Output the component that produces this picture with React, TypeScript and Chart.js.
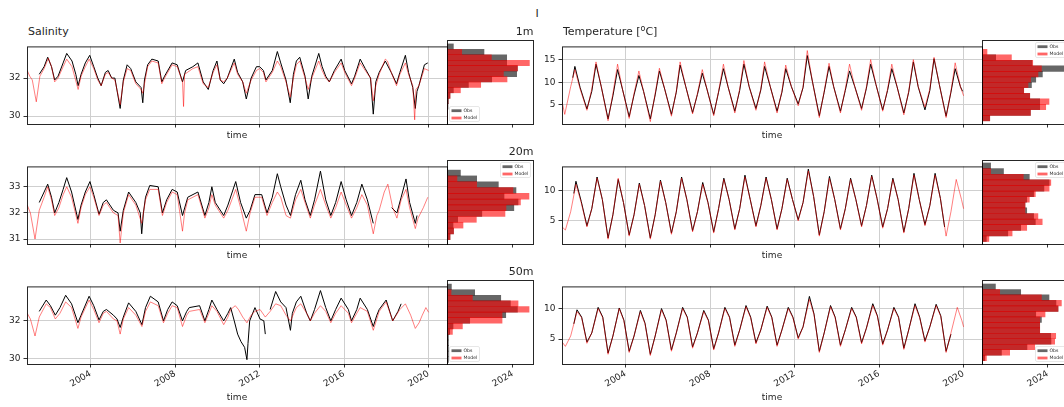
import React, { useEffect, useRef } from "react";
import { Chart, registerables } from "chart.js";
Chart.register(...registerables);

const FONT = "'DejaVu Sans', 'Liberation Sans', sans-serif";
type Pt = [number, number | null];

// ---------- axes ----------
const X_MIN = 2000.99;
const X_MAX = 2020.87;
const yearTicks = [2004, 2008, 2012, 2016, 2020];
const histTickValue = 76.6;
const histTickLabel = "2024";
const HIST_MAX = 100;

// ---------- Salinity 1m ----------
const sal1mModel: Pt[] = [
  [2001.0, 32.4], [2001.12, 32.1], [2001.24, 31.9], [2001.43, 30.75], [2001.6, 32.1], [2001.8, 32.5],
  [2002.0, 33.05], [2002.15, 32.6], [2002.3, 31.8], [2002.46, 32.0], [2002.7, 32.6], [2002.87, 33.0],
  [2003.12, 32.6], [2003.41, 31.4], [2003.55, 32.1], [2003.75, 32.6], [2003.93, 33.0],
  [2004.15, 32.5], [2004.34, 31.9], [2004.5, 31.6], [2004.7, 32.2], [2004.83, 32.3],
  [2005.0, 32.0], [2005.15, 31.9], [2005.4, 30.6], [2005.55, 31.8], [2005.73, 32.5], [2005.9, 32.4],
  [2006.14, 31.7], [2006.39, 31.4], [2006.47, 31.2], [2006.7, 32.6], [2006.9, 32.9],
  [2007.2, 32.8], [2007.37, 31.7], [2007.5, 32.0], [2007.86, 32.7],
  [2008.1, 32.6], [2008.35, 31.8], [2008.4, 30.5], [2008.45, 32.2], [2008.84, 32.5],
  [2009.08, 32.6], [2009.33, 31.7], [2009.57, 31.5], [2009.8, 32.3], [2009.98, 32.7],
  [2010.14, 31.9], [2010.3, 31.8], [2010.47, 32.0], [2010.8, 32.8], [2010.96, 32.2],
  [2011.2, 31.8], [2011.37, 31.2], [2011.6, 31.9], [2011.85, 32.4],
  [2012.0, 32.5], [2012.18, 32.3], [2012.3, 31.8], [2012.6, 32.3], [2012.84, 32.9],
  [2013.0, 32.6], [2013.25, 31.8], [2013.45, 31.0], [2013.6, 32.0], [2013.74, 32.7], [2013.9, 32.9],
  [2014.15, 32.0], [2014.3, 31.4], [2014.47, 32.0], [2014.8, 32.9], [2014.96, 32.4],
  [2015.13, 32.0], [2015.3, 31.8], [2015.54, 32.3], [2015.86, 32.8],
  [2016.03, 32.3], [2016.35, 31.6], [2016.5, 32.0], [2016.76, 32.8],
  [2017.0, 32.4], [2017.25, 32.0], [2017.38, 30.8], [2017.5, 31.6], [2017.66, 32.2], [2017.95, 33.0],
  [2018.05, 32.9], [2018.23, 32.3], [2018.48, 31.6], [2018.64, 32.2], [2018.9, 32.8],
  [2019.05, 32.2], [2019.25, 31.6], [2019.34, 29.8], [2019.4, 31.4], [2019.54, 31.6], [2019.8, 32.5], [2020.0, 32.4],
];
const sal1mObs: Pt[] = [
  [2001.57, 32.2], [2001.8, 32.6], [2001.97, 33.1],
  [2002.15, 32.6], [2002.3, 31.9], [2002.46, 32.1], [2002.7, 32.8], [2002.87, 33.3],
  [2003.12, 32.9], [2003.3, 32.2], [2003.41, 31.6], [2003.55, 32.2], [2003.75, 32.8], [2003.96, 33.2],
  [2004.15, 32.6], [2004.34, 32.0], [2004.5, 31.6], [2004.7, 32.3], [2004.83, 32.4],
  [2005.0, 32.0], [2005.15, 32.0], [2005.4, 30.4], [2005.55, 31.9], [2005.73, 32.7], [2005.9, 32.5],
  [2006.14, 31.8], [2006.39, 31.5], [2006.47, 30.7], [2006.55, 31.9], [2006.7, 32.7], [2006.9, 33.0],
  [2007.2, 32.9], [2007.37, 31.8], [2007.5, 32.1], [2007.86, 32.8],
  [2008.1, 32.7], [2008.35, 31.8], [2008.5, 32.4], [2008.84, 32.6],
  [2009.08, 32.8], [2009.33, 31.8], [2009.57, 31.4], [2009.8, 32.4], [2009.98, 32.9],
  [2010.14, 31.9], [2010.3, 31.7], [2010.47, 32.0], [2010.8, 33.0], [2010.96, 32.3],
  [2011.2, 31.8], [2011.37, 30.9], [2011.6, 32.0], [2011.85, 32.6],
  [2012.0, 32.6], [2012.18, 32.4], [2012.3, 31.9], [2012.6, 32.4], [2012.84, 33.4],
  [2013.0, 32.8], [2013.25, 31.9], [2013.45, 30.7], [2013.6, 32.2], [2013.74, 32.9], [2013.9, 33.1],
  [2014.15, 32.1], [2014.3, 30.9], [2014.47, 32.1], [2014.8, 33.3], [2014.96, 32.6],
  [2015.13, 32.1], [2015.3, 31.8], [2015.54, 32.4], [2015.86, 33.0],
  [2016.03, 32.4], [2016.35, 31.7], [2016.5, 32.1], [2016.76, 33.0],
  [2017.0, 32.5], [2017.25, 32.0], [2017.38, 30.1], [2017.5, 31.8], [2017.66, 32.3], [2017.95, 32.9],
  [2018.23, 32.3], [2018.48, 31.7], [2018.64, 32.3], [2018.9, 33.2],
  [2019.05, 32.3], [2019.25, 31.5], [2019.37, 30.4], [2019.45, 31.3], [2019.54, 31.6], [2019.8, 32.7], [2019.96, 32.8],
];

// ---------- Salinity 20m ----------
const sal20mModel: Pt[] = [
  [2001.0, 32.3], [2001.15, 32.0], [2001.37, 31.0], [2001.57, 32.1], [2001.8, 32.6], [2001.97, 33.0],
  [2002.15, 32.5], [2002.3, 31.9], [2002.5, 32.2], [2002.7, 32.7], [2002.87, 33.0],
  [2003.1, 32.6], [2003.4, 31.6], [2003.55, 32.2], [2003.75, 32.7], [2003.97, 33.0],
  [2004.15, 32.6], [2004.4, 31.9], [2004.6, 32.3], [2004.75, 32.4],
  [2005.08, 32.0], [2005.3, 31.9], [2005.4, 30.85], [2005.55, 32.0], [2005.8, 32.7],
  [2006.14, 32.3], [2006.42, 31.6], [2006.6, 32.5], [2006.8, 32.9],
  [2007.2, 32.9], [2007.4, 31.9], [2007.6, 32.4], [2007.86, 32.8],
  [2008.1, 32.7], [2008.35, 31.3], [2008.45, 32.0], [2008.6, 32.5],
  [2009.08, 32.7], [2009.41, 31.8], [2009.6, 32.2], [2009.74, 32.7], [2009.9, 32.3],
  [2010.3, 31.8], [2010.5, 32.1], [2010.87, 32.9],
  [2011.1, 32.2], [2011.37, 31.3], [2011.55, 32.0], [2011.78, 32.6],
  [2012.1, 32.6], [2012.35, 31.9], [2012.6, 32.4], [2012.84, 32.8],
  [2013.0, 32.6], [2013.25, 31.9], [2013.46, 31.8], [2013.7, 32.5], [2013.95, 32.9],
  [2014.15, 32.4], [2014.4, 31.8], [2014.6, 32.3], [2014.88, 32.9],
  [2015.13, 32.3], [2015.37, 31.8], [2015.6, 32.2], [2015.86, 32.8],
  [2016.1, 32.3], [2016.35, 31.8], [2016.6, 32.2], [2016.84, 32.7],
  [2017.1, 32.3], [2017.38, 31.2], [2017.55, 31.9], [2017.66, 32.1], [2017.9, 32.8],
  [2018.07, 33.1], [2018.3, 32.2], [2018.5, 31.8], [2018.7, 32.5], [2018.93, 32.9],
  [2019.1, 32.2], [2019.37, 31.4], [2019.5, 31.8], [2019.75, 32.2], [2019.96, 32.6],
];
const sal20mObs: Pt[] = [
  [2001.57, 32.4], [2001.8, 32.8], [2001.97, 33.1],
  [2002.15, 32.6], [2002.3, 32.0], [2002.5, 32.4], [2002.7, 32.9], [2002.87, 33.35],
  [2003.1, 32.8], [2003.4, 31.75], [2003.55, 32.3], [2003.75, 32.8], [2003.97, 33.2],
  [2004.15, 32.7], [2004.4, 31.95], [2004.6, 32.4], [2004.75, 32.5],
  [2005.08, 32.1], [2005.3, 32.0], [2005.4, 31.3], [2005.55, 32.1], [2005.8, 32.8],
  [2006.14, 32.4], [2006.35, 32.0], [2006.42, 31.2], [2006.5, 32.0], [2006.6, 32.6], [2006.8, 33.05],
  [2007.2, 33.0], [2007.4, 32.0], [2007.6, 32.5], [2007.86, 32.9],
  [2008.1, 32.8], [2008.35, 31.9], [2008.6, 32.6],
  [2009.08, 32.8], [2009.41, 31.9], [2009.6, 32.4], [2009.74, 33.0], [2009.9, 32.4],
  [2010.3, 31.9], [2010.5, 32.3], [2010.87, 33.2],
  [2011.1, 32.4], [2011.37, 31.8], [2011.55, 32.1], [2011.78, 32.7],
  [2012.1, 32.7], [2012.35, 32.0], [2012.6, 32.6], [2012.84, 33.5],
  [2013.0, 33.0], [2013.25, 32.3], [2013.46, 31.9], [2013.7, 32.7], [2013.95, 33.25],
  [2014.15, 32.5], [2014.4, 31.9], [2014.6, 32.5], [2014.88, 33.6],
  [2015.13, 32.5], [2015.37, 31.9], [2015.6, 32.4], [2015.86, 33.2],
  [2016.1, 32.5], [2016.35, 31.9], [2016.6, 32.4], [2016.84, 33.1],
  [2017.1, 32.5], [2017.38, 31.6], [2017.5, null],
  [2018.25, 32.2], [2018.5, 32.0], [2018.7, 32.6], [2018.93, 33.3],
  [2019.1, 32.4], [2019.37, 31.6], [2019.45, 31.9],
];

// ---------- Salinity 50m ----------
const sal50mModel: Pt[] = [
  [2001.0, 32.4], [2001.15, 32.1], [2001.37, 31.2], [2001.57, 32.2], [2001.9, 32.9],
  [2002.1, 32.7], [2002.33, 32.1], [2002.55, 32.4], [2002.82, 33.0],
  [2003.1, 32.7], [2003.4, 31.6], [2003.55, 32.2], [2003.93, 33.1],
  [2004.15, 32.6], [2004.4, 31.9], [2004.6, 32.4], [2004.75, 32.5],
  [2005.08, 32.1], [2005.25, 32.0], [2005.4, 31.3], [2005.55, 32.1], [2005.8, 32.7],
  [2006.14, 32.3], [2006.43, 31.7], [2006.6, 32.5], [2006.83, 33.0],
  [2007.2, 32.8], [2007.45, 31.9], [2007.65, 32.4], [2007.86, 32.8],
  [2008.1, 32.7], [2008.35, 31.7], [2008.55, 32.3], [2008.67, 32.5],
  [2009.16, 32.6], [2009.41, 31.9], [2009.6, 32.4], [2009.74, 32.8], [2009.98, 32.5],
  [2010.3, 31.8], [2010.5, 32.2], [2010.63, 32.6], [2010.85, 32.8],
  [2011.0, 32.6], [2011.2, 32.2], [2011.4, 31.9], [2011.6, 32.3], [2011.78, 32.5],
  [2012.02, 32.6], [2012.27, 32.2], [2012.5, 32.5], [2012.76, 32.9],
  [2013.0, 32.8], [2013.25, 32.3], [2013.46, 32.0], [2013.74, 32.7], [2013.95, 32.9],
  [2014.23, 32.4], [2014.4, 32.0], [2014.6, 32.4], [2014.88, 32.8],
  [2015.13, 32.5], [2015.37, 31.9], [2015.6, 32.4], [2015.86, 32.8],
  [2016.2, 32.4], [2016.35, 31.9], [2016.6, 32.4], [2016.76, 32.7],
  [2017.1, 32.5], [2017.38, 31.5], [2017.55, 32.1], [2017.66, 32.5], [2017.99, 33.0],
  [2018.3, 32.0], [2018.64, 32.6], [2018.9, 32.9],
  [2019.15, 32.3], [2019.37, 31.6], [2019.55, 31.9], [2019.7, 32.3], [2019.87, 32.7], [2020.0, 32.45],
];
const sal50mObs: Pt[] = [
  [2001.57, 32.5], [2001.9, 33.1],
  [2002.1, 32.8], [2002.33, 32.3], [2002.55, 32.7], [2002.82, 33.35],
  [2003.1, 32.9], [2003.4, 31.9], [2003.55, 32.3], [2003.93, 33.3],
  [2004.15, 32.8], [2004.4, 32.05], [2004.6, 32.5], [2004.75, 32.6],
  [2005.08, 32.3], [2005.25, 32.1], [2005.4, 31.65], [2005.55, 32.2], [2005.8, 32.95],
  [2006.14, 32.5], [2006.43, 31.8], [2006.6, 32.7], [2006.83, 33.3],
  [2007.2, 33.0], [2007.45, 32.0], [2007.65, 32.6], [2007.86, 33.0],
  [2008.1, 32.8], [2008.35, 32.0], [2008.55, 32.5], [2008.67, 32.7],
  [2009.16, 32.8], [2009.41, 32.0], [2009.6, 32.6], [2009.74, 33.1], [2009.98, 32.6],
  [2010.3, 32.0], [2010.5, 32.4], [2010.63, 32.7], [2010.8, 32.0], [2010.96, 31.3],
  [2011.12, 30.9], [2011.29, 30.6], [2011.4, 29.95], [2011.45, 30.8], [2011.53, 32.0], [2011.78, 32.7],
  [2012.02, 32.1], [2012.2, 32.0], [2012.27, 31.3], [2012.3, null],
  [2012.5, 32.6], [2012.76, 33.55],
  [2013.0, 33.0], [2013.25, 32.7], [2013.46, 31.5], [2013.55, 32.4], [2013.74, 33.0], [2013.95, 33.3],
  [2014.23, 32.4], [2014.4, 32.0], [2014.6, 32.6], [2014.88, 33.6],
  [2015.13, 32.7], [2015.37, 32.0], [2015.6, 32.6], [2015.86, 33.2],
  [2016.2, 32.6], [2016.35, 32.0], [2016.6, 32.6], [2016.76, 33.2],
  [2017.1, 32.6], [2017.38, 31.7], [2017.55, 32.3], [2017.66, 32.6], [2017.99, 33.1],
  [2018.3, 32.0], [2018.55, 32.5], [2018.7, 32.9],
];

// ---------- Temperature 1m ----------
const temp1mModel: Pt[] = [
  [2001.0, 5.6], [2001.12, 2.9], [2001.4, 9.0], [2001.6, 12.8], [2001.85, 8.5],
  [2002.17, 3.8], [2002.4, 8.5], [2002.6, 14.5], [2002.85, 9.0],
  [2003.17, 1.5], [2003.4, 7.5], [2003.62, 14.0], [2003.85, 8.5],
  [2004.17, 2.0], [2004.4, 7.5], [2004.63, 12.5], [2004.85, 8.0],
  [2005.17, 1.3], [2005.4, 7.5], [2005.6, 13.1], [2005.85, 8.5],
  [2006.17, 2.5], [2006.4, 8.0], [2006.58, 14.5], [2006.85, 9.0],
  [2007.17, 3.0], [2007.4, 7.5], [2007.63, 12.8], [2007.85, 8.5],
  [2008.17, 2.6], [2008.4, 8.0], [2008.63, 14.0], [2008.85, 9.0],
  [2009.17, 3.2], [2009.4, 8.5], [2009.6, 14.8], [2009.85, 9.0],
  [2010.17, 3.8], [2010.4, 8.5], [2010.58, 14.5], [2010.85, 9.0],
  [2011.17, 3.2], [2011.4, 8.0], [2011.58, 13.8], [2011.85, 9.0],
  [2012.17, 4.8], [2012.4, 9.0], [2012.6, 17.0], [2012.85, 10.0],
  [2013.17, 2.2], [2013.4, 8.0], [2013.63, 14.2], [2013.85, 9.0],
  [2014.17, 3.2], [2014.4, 8.5], [2014.6, 14.0], [2014.85, 9.0],
  [2015.17, 3.8], [2015.4, 9.0], [2015.6, 15.0], [2015.85, 9.5],
  [2016.17, 3.6], [2016.4, 8.5], [2016.6, 14.0], [2016.85, 9.0],
  [2017.17, 2.8], [2017.4, 8.0], [2017.62, 15.0], [2017.85, 9.0],
  [2018.17, 4.5], [2018.4, 8.5], [2018.6, 15.5], [2018.85, 9.5],
  [2019.17, 2.2], [2019.4, 8.0], [2019.6, 14.3], [2019.85, 9.0], [2020.0, 7.0],
];
const temp1mObs: Pt[] = [
  [2001.5, 11.0], [2001.6, 13.5], [2001.85, 8.8],
  [2002.17, 4.1], [2002.4, 8.0], [2002.6, 14.0], [2002.85, 9.0],
  [2003.17, 1.9], [2003.4, 7.0], [2003.62, 12.8], [2003.85, 8.5],
  [2004.17, 2.4], [2004.4, 7.2], [2004.63, 11.5], [2004.85, 8.0],
  [2005.17, 1.9], [2005.4, 7.2], [2005.6, 12.5], [2005.85, 8.5],
  [2006.17, 2.9], [2006.4, 7.8], [2006.58, 13.8], [2006.85, 9.0],
  [2007.17, 3.3], [2007.4, 7.3], [2007.63, 12.0], [2007.85, 8.5],
  [2008.17, 2.9], [2008.4, 7.8], [2008.63, 13.0], [2008.85, 9.0],
  [2009.17, 3.6], [2009.4, 8.2], [2009.6, 14.0], [2009.85, 9.0],
  [2010.17, 4.2], [2010.4, 8.3], [2010.58, 13.5], [2010.85, 9.0],
  [2011.17, 3.6], [2011.4, 7.8], [2011.58, 13.0], [2011.85, 9.0],
  [2012.17, 5.2], [2012.4, 8.8], [2012.6, 15.9], [2012.85, 10.0],
  [2013.17, 2.6], [2013.4, 7.8], [2013.63, 13.5], [2013.85, 9.0],
  [2014.17, 3.6], [2014.4, 8.2], [2014.6, 12.5], [2014.85, 9.0],
  [2015.17, 4.2], [2015.4, 8.7], [2015.6, 14.0], [2015.85, 9.5],
  [2016.17, 3.9], [2016.4, 8.2], [2016.6, 13.0], [2016.85, 9.0],
  [2017.17, 3.2], [2017.4, 7.8], [2017.62, 14.5], [2017.85, 9.0],
  [2018.17, 3.9], [2018.4, 8.2], [2018.6, 15.2], [2018.85, 9.5],
  [2019.17, 2.5], [2019.4, 7.8], [2019.6, 13.0], [2019.85, 9.0], [2019.95, 8.0],
];

// ---------- Temperature 20m ----------
const temp20mModel: Pt[] = [
  [2001.0, 4.0], [2001.15, 3.5], [2001.4, 6.5], [2001.65, 11.0], [2001.9, 8.0],
  [2002.17, 4.0], [2002.4, 7.0], [2002.65, 12.0], [2002.9, 8.5],
  [2003.17, 2.0], [2003.4, 6.0], [2003.65, 12.0], [2003.9, 8.0],
  [2004.17, 2.5], [2004.4, 6.0], [2004.65, 11.0], [2004.9, 7.5],
  [2005.17, 2.0], [2005.4, 6.0], [2005.65, 11.5], [2005.9, 8.0],
  [2006.17, 2.8], [2006.4, 6.5], [2006.65, 12.0], [2006.9, 8.5],
  [2007.17, 3.2], [2007.4, 6.5], [2007.65, 11.0], [2007.9, 8.0],
  [2008.17, 3.0], [2008.4, 7.0], [2008.65, 11.8], [2008.9, 8.5],
  [2009.17, 3.5], [2009.4, 7.0], [2009.65, 12.2], [2009.9, 8.5],
  [2010.17, 4.0], [2010.4, 7.5], [2010.65, 12.0], [2010.9, 8.5],
  [2011.17, 3.5], [2011.4, 7.0], [2011.65, 11.8], [2011.9, 8.5],
  [2012.17, 5.0], [2012.4, 8.0], [2012.65, 13.2], [2012.9, 9.0],
  [2013.17, 2.5], [2013.4, 6.5], [2013.65, 12.0], [2013.9, 8.5],
  [2014.17, 3.5], [2014.4, 7.0], [2014.65, 11.8], [2014.9, 8.5],
  [2015.17, 4.0], [2015.4, 7.5], [2015.65, 12.3], [2015.9, 8.7],
  [2016.17, 3.8], [2016.4, 7.0], [2016.65, 11.8], [2016.9, 8.5],
  [2017.17, 3.0], [2017.4, 7.0], [2017.65, 12.5], [2017.9, 8.5],
  [2018.17, 4.2], [2018.4, 7.5], [2018.65, 12.5], [2018.9, 8.7],
  [2019.17, 2.5], [2019.4, 6.5], [2019.65, 11.8], [2019.9, 8.5], [2020.0, 7.0],
];
const temp20mObs: Pt[] = [
  [2001.55, 9.5], [2001.65, 11.5], [2001.9, 8.2],
  [2002.17, 4.2], [2002.4, 7.0], [2002.65, 12.2], [2002.9, 8.5],
  [2003.17, 2.2], [2003.4, 6.0], [2003.65, 11.8], [2003.9, 8.0],
  [2004.17, 2.7], [2004.4, 6.0], [2004.65, 11.2], [2004.9, 7.5],
  [2005.17, 2.2], [2005.4, 6.0], [2005.65, 11.7], [2005.9, 8.0],
  [2006.17, 3.0], [2006.4, 6.5], [2006.65, 12.2], [2006.9, 8.5],
  [2007.17, 3.4], [2007.4, 6.5], [2007.65, 11.3], [2007.9, 8.0],
  [2008.17, 3.2], [2008.4, 7.0], [2008.65, 12.0], [2008.9, 8.5],
  [2009.17, 3.7], [2009.4, 7.0], [2009.65, 12.5], [2009.9, 8.5],
  [2010.17, 4.2], [2010.4, 7.5], [2010.65, 12.2], [2010.9, 8.5],
  [2011.17, 3.7], [2011.4, 7.0], [2011.65, 12.0], [2011.9, 8.5],
  [2012.17, 5.2], [2012.4, 8.0], [2012.65, 13.5], [2012.9, 9.0],
  [2013.17, 2.7], [2013.4, 6.5], [2013.65, 12.3], [2013.9, 8.5],
  [2014.17, 3.7], [2014.4, 7.0], [2014.65, 12.0], [2014.9, 8.5],
  [2015.17, 4.2], [2015.4, 7.5], [2015.65, 12.5], [2015.9, 8.7],
  [2016.17, 4.0], [2016.4, 7.0], [2016.65, 12.0], [2016.9, 8.5],
  [2017.17, 3.2], [2017.4, 7.0], [2017.65, 12.8], [2017.9, 8.5],
  [2018.17, 4.4], [2018.4, 7.5], [2018.65, 12.8], [2018.9, 8.7], [2019.1, 4.0],
];

// ---------- Temperature 50m ----------
const temp50mModel: Pt[] = [
  [2001.0, 4.5], [2001.15, 3.8], [2001.4, 5.5], [2001.7, 9.5], [2001.92, 8.5],
  [2002.17, 4.3], [2002.4, 6.0], [2002.7, 10.0], [2002.92, 8.5],
  [2003.17, 2.5], [2003.4, 5.5], [2003.7, 10.0], [2003.92, 8.0],
  [2004.17, 2.8], [2004.4, 5.5], [2004.7, 9.5], [2004.92, 7.5],
  [2005.17, 2.3], [2005.4, 5.5], [2005.7, 9.8], [2005.92, 8.0],
  [2006.17, 3.0], [2006.4, 6.0], [2006.7, 10.0], [2006.92, 8.5],
  [2007.17, 3.5], [2007.4, 6.0], [2007.7, 9.5], [2007.92, 8.0],
  [2008.17, 3.2], [2008.4, 6.0], [2008.7, 10.0], [2008.92, 8.5],
  [2009.17, 3.8], [2009.4, 6.5], [2009.7, 10.3], [2009.92, 8.5],
  [2010.17, 4.2], [2010.4, 6.5], [2010.7, 10.2], [2010.92, 8.5],
  [2011.17, 3.8], [2011.4, 6.5], [2011.7, 10.0], [2011.92, 8.5],
  [2012.17, 5.0], [2012.4, 7.0], [2012.7, 11.5], [2012.92, 9.0],
  [2013.17, 2.8], [2013.4, 6.0], [2013.7, 10.3], [2013.92, 8.5],
  [2014.17, 3.8], [2014.4, 6.5], [2014.7, 10.0], [2014.92, 8.5],
  [2015.17, 4.2], [2015.4, 6.8], [2015.7, 10.5], [2015.92, 8.7],
  [2016.17, 4.0], [2016.4, 6.5], [2016.7, 10.0], [2016.92, 8.5],
  [2017.17, 3.3], [2017.4, 6.5], [2017.7, 10.5], [2017.92, 8.5],
  [2018.17, 4.5], [2018.4, 7.0], [2018.7, 10.5], [2018.92, 8.7],
  [2019.17, 2.8], [2019.4, 6.0], [2019.7, 10.2], [2019.92, 8.0], [2020.0, 7.0],
];
const temp50mObs: Pt[] = [
  [2001.55, 7.5], [2001.7, 9.8], [2001.92, 8.6],
  [2002.17, 4.5], [2002.4, 6.0], [2002.7, 10.2], [2002.92, 8.6],
  [2003.17, 2.7], [2003.4, 5.5], [2003.7, 10.1], [2003.92, 8.1],
  [2004.17, 3.0], [2004.4, 5.5], [2004.7, 9.7], [2004.92, 7.6],
  [2005.17, 2.5], [2005.4, 5.5], [2005.7, 10.0], [2005.92, 8.1],
  [2006.17, 3.2], [2006.4, 6.0], [2006.7, 10.2], [2006.92, 8.6],
  [2007.17, 3.7], [2007.4, 6.0], [2007.7, 9.7], [2007.92, 8.1],
  [2008.17, 3.4], [2008.4, 6.0], [2008.7, 10.2], [2008.92, 8.6],
  [2009.17, 4.0], [2009.4, 6.5], [2009.7, 10.5], [2009.92, 8.6],
  [2010.17, 4.4], [2010.4, 6.5], [2010.7, 10.4], [2010.92, 8.6],
  [2011.17, 4.0], [2011.4, 6.5], [2011.7, 10.2], [2011.92, 8.6],
  [2012.17, 5.2], [2012.4, 7.0], [2012.7, 12.0], [2012.92, 9.1],
  [2013.17, 3.0], [2013.4, 6.0], [2013.7, 10.5], [2013.92, 8.6],
  [2014.17, 4.0], [2014.4, 6.5], [2014.7, 10.2], [2014.92, 8.6],
  [2015.17, 4.4], [2015.4, 6.8], [2015.7, 10.8], [2015.92, 8.8],
  [2016.17, 4.2], [2016.4, 6.5], [2016.7, 10.2], [2016.92, 8.6],
  [2017.17, 3.5], [2017.4, 6.5], [2017.7, 10.8], [2017.92, 8.6],
  [2018.17, 4.7], [2018.4, 7.0], [2018.7, 10.7], [2018.92, 8.8], [2019.17, 3.0], [2019.4, 5.8],
];

// ---------- Histograms (bin centres, counts) ----------
const sal1mBins = [29.9, 30.17, 30.43, 30.7, 30.96, 31.23, 31.49, 31.76, 32.02, 32.29, 32.55, 32.82, 33.08, 33.35];
const sal1mHistObs = [0.6, 0.6, 1.2, 1.7, 3.5, 7.4, 24.9, 52, 81, 81.9, 69.4, 69.4, 43, 7.4];
const sal1mHistModel = [0.6, 0.3, 0.6, 1.2, 3.5, 15.6, 39.2, 69.8, 65.6, 81.9, 95.8, 51.6, 17.1, 0];

const sal20mBins = [31.065, 31.27, 31.475, 31.68, 31.885, 32.09, 32.295, 32.5, 32.705, 32.91, 33.115, 33.32];
const sal20mHistObs = [3.5, 7.6, 7, 12.4, 40.5, 77.7, 82.6, 66.3, 80.2, 59.7, 34.5, 15.6];
const sal20mHistModel = [3.5, 7.6, 18.6, 34.1, 67.4, 68.6, 85.4, 95.3, 76.7, 34.5, 11.6, 0];

const sal50mBins = [29.93, 30.21, 30.48, 30.75, 31.03, 31.3, 31.57, 31.845, 32.12, 32.39, 32.665, 32.94, 33.21, 33.485];
const sal50mHistObs = [1.7, 1.7, 1.7, 1.7, 1.7, 3.1, 7, 26.4, 68.3, 81.9, 73.7, 62.5, 32.2, 5.1];
const sal50mHistModel = [0, 0, 0, 0, 0, 6.3, 17.9, 64, 64, 95.4, 82.6, 29.5, 4.7, 0];

const temp1mBins = [1.99, 3.11, 4.24, 5.36, 6.48, 7.6, 8.73, 9.85, 10.97, 12.09, 13.22, 14.34, 15.46];
const temp1mHistObs = [9, 56.3, 67.1, 67.1, 55.5, 48.5, 57.5, 62.5, 70.2, 100, 58.1, 15.9, 0];
const temp1mHistModel = [9, 56.3, 74.1, 77.9, 55.5, 48.5, 53.5, 56.6, 65.1, 69.1, 59, 34.2, 5.8];

const temp20mBins = [2.01, 2.86, 3.71, 4.56, 5.41, 6.26, 7.11, 7.96, 8.81, 9.66, 10.51, 11.36, 12.21, 13.06];
const temp20mHistObs = [5, 30, 45, 62, 60, 52, 50, 52, 60, 72, 78, 55, 25, 10];
const temp20mHistModel = [8, 35, 52, 70, 65, 50, 50, 55, 62, 78, 80, 48, 10, 0];

const temp50mBins = [1.83, 2.66, 3.49, 4.32, 5.15, 5.98, 6.81, 7.64, 8.47, 9.3, 10.13, 10.96, 11.79, 12.62];
const temp50mHistObs = [3.1, 22.6, 52.3, 80.2, 79.9, 67.1, 67.1, 69.1, 62.5, 88.4, 86, 77.9, 45, 15.6];
const temp50mHistModel = [5.1, 32.2, 61.3, 84.5, 85.7, 67.1, 67.1, 67.1, 73.3, 88.4, 92.3, 69.1, 20.6, 0];

// ---------- panel definitions ----------
type PanelDef = {
  row: number; col: number;
  yMin: number; yMax: number; yTicks: number[];
  obs: Pt[]; model: Pt[];
  bins: number[]; histObs: number[]; histModel: number[];
  legendPos: string;
};
const panels: PanelDef[] = [
  { row: 0, col: 0, yMin: 29.58, yMax: 33.67, yTicks: [30, 32], obs: sal1mObs, model: sal1mModel, bins: sal1mBins, histObs: sal1mHistObs, histModel: sal1mHistModel, legendPos: "ll" },
  { row: 1, col: 0, yMin: 30.81, yMax: 33.78, yTicks: [31, 32, 33], obs: sal20mObs, model: sal20mModel, bins: sal20mBins, histObs: sal20mHistObs, histModel: sal20mHistModel, legendPos: "ur" },
  { row: 2, col: 0, yMin: 29.72, yMax: 33.82, yTicks: [30, 32], obs: sal50mObs, model: sal50mModel, bins: sal50mBins, histObs: sal50mHistObs, histModel: sal50mHistModel, legendPos: "ll" },
  { row: 0, col: 1, yMin: 0.78, yMax: 17.92, yTicks: [5, 10, 15], obs: temp1mObs, model: temp1mModel, bins: temp1mBins, histObs: temp1mHistObs, histModel: temp1mHistModel, legendPos: "ur" },
  { row: 1, col: 1, yMin: 1.21, yMax: 13.94, yTicks: [5, 10], obs: temp20mObs, model: temp20mModel, bins: temp20mBins, histObs: temp20mHistObs, histModel: temp20mHistModel, legendPos: "ur" },
  { row: 2, col: 1, yMin: 0.91, yMax: 13.64, yTicks: [5, 10], obs: temp50mObs, model: temp50mModel, bins: temp50mBins, histObs: temp50mHistObs, histModel: temp50mHistModel, legendPos: "lr" },
];

// ---------- layout ----------
const COL_X = [27, 562];
const ROW_Y = [40, 160, 280];
const TS_W = 420;
const HIST_W = 86;
const PLOT_H = 84;
const PAD_L = 27;
const PAD_T = 2;
const padBottom = (row: number) => (row === 2 ? 39 : 17);

const TEXT = "#262626";
const GRID = "#cfcfcf";

const spinePlugin = {
  id: "spines",
  afterDraw(chart: any) {
    const { ctx, chartArea: a } = chart;
    ctx.save();
    ctx.strokeStyle = "rgba(0,0,0,0.85)";
    ctx.lineWidth = 1;
    ctx.strokeRect(a.left + 0.5, a.top + 0.5, a.right - a.left, a.bottom - a.top);
    ctx.restore();
  },
};

const histLegendPlugin = {
  id: "histLegend",
  afterDatasetsDraw(chart: any, _args: any, opts: any) {
    if (!opts || !opts.pos) return;
    const { ctx, chartArea: a } = chart;
    const w = 30, h = 15, m = 2.5;
    const x = opts.pos.endsWith("l") ? a.left + m : a.right - m - w;
    const y = opts.pos.startsWith("u") ? a.top + m : a.bottom - m - h;
    ctx.save();
    ctx.fillStyle = "rgba(255,255,255,0.85)";
    ctx.strokeStyle = "#d6d6d6";
    ctx.lineWidth = 0.6;
    ctx.beginPath();
    ctx.roundRect(x, y, w, h, 1.5);
    ctx.fill();
    ctx.stroke();
    const items: [string, string][] = [["Obs", "rgba(0,0,0,0.6)"], ["Model", "rgba(255,0,0,0.6)"]];
    ctx.font = `4.6px ${FONT}`;
    ctx.textBaseline = "middle";
    ctx.textAlign = "left";
    items.forEach(([t, c], i) => {
      const cy = y + 4.2 + i * 7.3;
      ctx.fillStyle = c;
      ctx.fillRect(x + 2, cy - 1.4, 10, 2.8);
      ctx.fillStyle = TEXT;
      ctx.fillText(t, x + 14, cy);
    });
    ctx.restore();
  },
};

const tickFont = { family: FONT, size: 9 };

function tsConfig(p: PanelDef) {
  const padB = padBottom(p.row);
  const bottom = p.row === 2;
  return {
    type: "line",
    data: {
      datasets: [
        {
          label: "Model",
          data: p.model.map(([x, y]) => ({ x, y })),
          borderColor: "rgba(255,0,0,0.5)",
          borderWidth: 1,
          pointRadius: 0,
          tension: 0,
          spanGaps: false,
          order: 0,
        },
        {
          label: "Obs",
          data: p.obs.map(([x, y]) => ({ x, y })),
          borderColor: "#000",
          borderWidth: 1,
          pointRadius: 0,
          tension: 0,
          spanGaps: false,
          order: 1,
        },
      ],
    },
    options: {
      animation: false,
      responsive: false,
      devicePixelRatio: 1,
      events: [],
      layout: { padding: { left: 0, right: 1, top: PAD_T, bottom: 0 } },
      plugins: { legend: { display: false }, tooltip: { enabled: false } },
      scales: {
        x: {
          type: "linear",
          min: X_MIN,
          max: X_MAX,
          afterBuildTicks: (s: any) => { s.ticks = yearTicks.map((v) => ({ value: v })); },
          afterFit: (s: any) => { s.height = padB; },
          grid: { color: GRID, lineWidth: 1, drawTicks: true, tickLength: 3.5, tickColor: "#333", tickWidth: 1 },
          border: { display: false },
          ticks: {
            display: bottom,
            autoSkip: false,
            minRotation: 30,
            maxRotation: 30,
            padding: 1,
            font: tickFont,
            color: TEXT,
            callback: (v: any) => String(v),
          },
          title: { display: true, text: "time", font: { family: FONT, size: 9 }, color: TEXT, padding: 0 },
        },
        y: {
          type: "linear",
          min: p.yMin,
          max: p.yMax,
          afterBuildTicks: (s: any) => { s.ticks = p.yTicks.map((v) => ({ value: v })); },
          afterFit: (s: any) => { s.width = PAD_L; },
          grid: { color: GRID, lineWidth: 1, drawTicks: true, tickLength: 3.5, tickColor: "#333", tickWidth: 1 },
          border: { display: false },
          ticks: { padding: 3, font: tickFont, color: TEXT, callback: (v: any) => String(v) },
        },
      },
    },
    plugins: [spinePlugin],
  };
}

function histConfig(p: PanelDef) {
  const padB = padBottom(p.row);
  const bottom = p.row === 2;
  const common = { grouped: false, barPercentage: 1, categoryPercentage: 1, borderWidth: 0 };
  return {
    type: "bar",
    data: {
      datasets: [
        { label: "Model", data: p.bins.map((c, i) => ({ x: p.histModel[i], y: c })), backgroundColor: "rgba(255,0,0,0.6)", order: 0, ...common },
        { label: "Obs", data: p.bins.map((c, i) => ({ x: p.histObs[i], y: c })), backgroundColor: "rgba(0,0,0,0.6)", order: 1, ...common },
      ],
    },
    options: {
      indexAxis: "y",
      animation: false,
      responsive: false,
      devicePixelRatio: 1,
      events: [],
      layout: { padding: { left: 0, right: 1, top: PAD_T, bottom: 0 } },
      plugins: { legend: { display: false }, tooltip: { enabled: false }, histLegend: { pos: p.legendPos } },
      scales: {
        x: {
          type: "linear",
          min: 0,
          max: HIST_MAX,
          afterBuildTicks: (s: any) => { s.ticks = [{ value: histTickValue }]; },
          afterFit: (s: any) => { s.height = padB; },
          grid: { drawOnChartArea: false, drawTicks: true, tickLength: 3.5, tickColor: "#333", tickWidth: 1 },
          border: { display: false },
          ticks: {
            display: bottom,
            autoSkip: false,
            minRotation: 30,
            maxRotation: 30,
            padding: 1,
            font: tickFont,
            color: TEXT,
            callback: () => histTickLabel,
          },
        },
        y: {
          type: "linear",
          min: p.yMin,
          max: p.yMax,
          offset: false,
          display: false,
          afterBuildTicks: (s: any) => { s.ticks = [{ value: p.yMin }]; },
        },
      },
    },
    plugins: [spinePlugin, histLegendPlugin],
  };
}

type Spec = { left: number; top: number; w: number; h: number; make: () => any };
const specs: Spec[] = [];
panels.forEach((p) => {
  const padB = padBottom(p.row);
  const top = ROW_Y[p.row] - PAD_T;
  const h = PAD_T + PLOT_H + padB;
  specs.push({ left: COL_X[p.col] - PAD_L, top, w: PAD_L + TS_W + 1, h, make: () => tsConfig(p) });
  specs.push({ left: COL_X[p.col] + TS_W, top, w: HIST_W + 1, h, make: () => histConfig(p) });
});

const titleStyle = (baseline: number, size = 11): React.CSSProperties => ({
  position: "absolute",
  top: baseline - size * 0.846,
  fontSize: size,
  lineHeight: `${size}px`,
  whiteSpace: "nowrap",
  color: TEXT,
});

export default function App() {
  const refs = useRef<(HTMLCanvasElement | null)[]>([]);
  useEffect(() => {
    const charts = specs.map((s, i) => new Chart(refs.current[i] as HTMLCanvasElement, s.make() as any));
    return () => charts.forEach((c) => c.destroy());
  }, []);
  return (
    <div
      style={{
        position: "fixed",
        left: 0,
        top: 0,
        width: 1064,
        height: 407,
        overflow: "hidden",
        background: "#fff",
        fontFamily: FONT,
      }}
    >
      {specs.map((s, i) => (
        <canvas
          key={i}
          ref={(el) => { refs.current[i] = el; }}
          width={s.w}
          height={s.h}
          style={{ position: "absolute", left: s.left, top: s.top, width: s.w, height: s.h }}
        />
      ))}
      <div style={{ ...titleStyle(17), left: 535.5 }}>I</div>
      <div style={{ ...titleStyle(35), left: 28 }}>Salinity</div>
      <div style={{ ...titleStyle(35), right: 1064 - 533.5 }}>1m</div>
      <div style={{ ...titleStyle(155), right: 1064 - 533.5 }}>20m</div>
      <div style={{ ...titleStyle(275), right: 1064 - 533.5 }}>50m</div>
      <div style={{ ...titleStyle(35), left: 563 }}>
        Temperature [<sup style={{ fontSize: 8, verticalAlign: 0, position: "relative", top: -4 }}>o</sup>C]
      </div>
    </div>
  );
}
